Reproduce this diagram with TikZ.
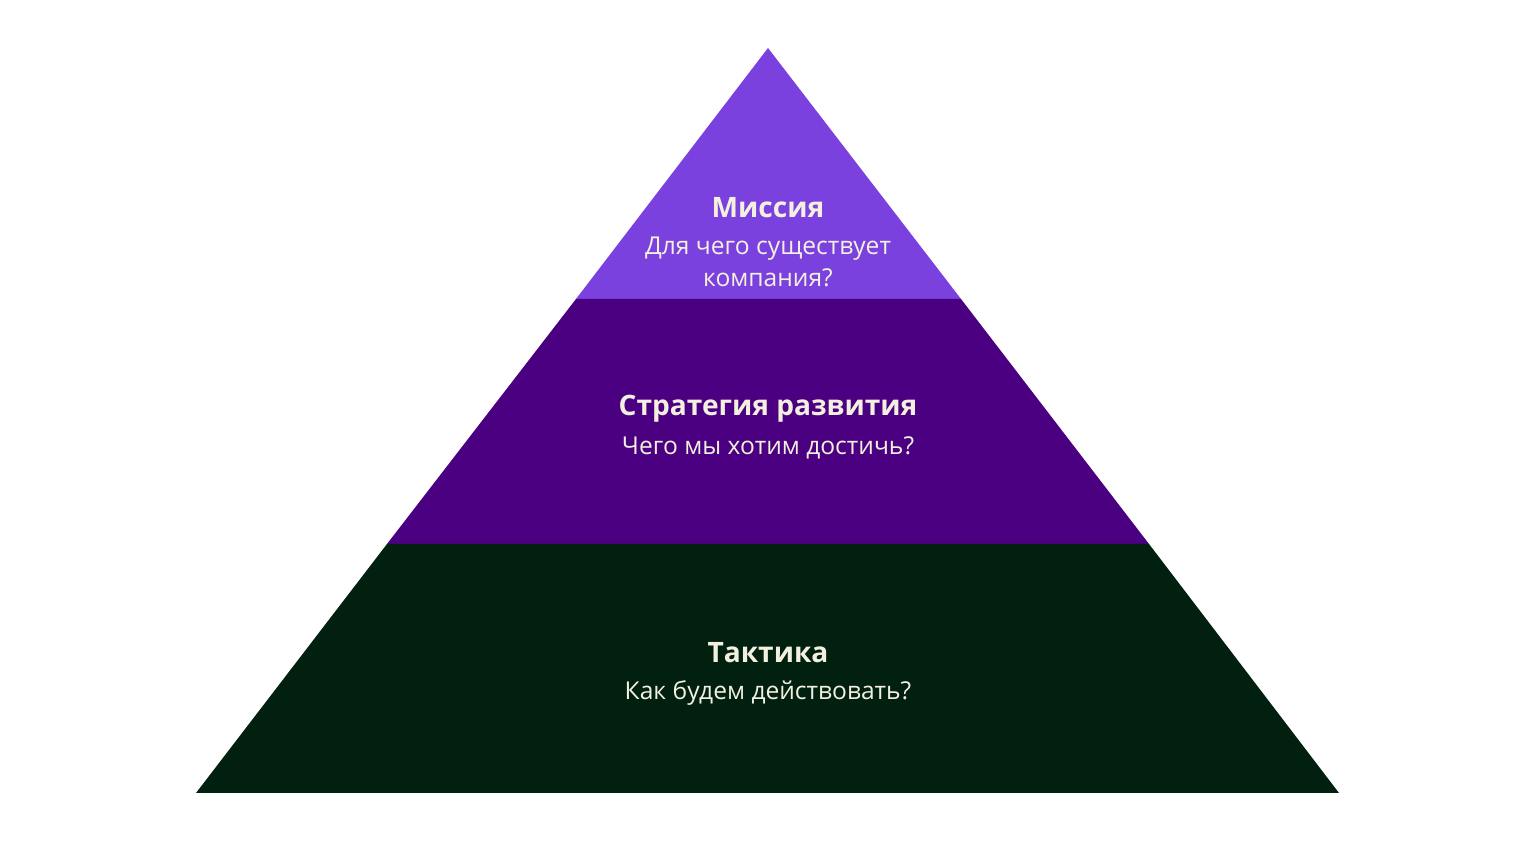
\documentclass[tikz,border=0pt]{standalone}
\usepackage{fontspec}
\setmainfont{Open Sans}
\usetikzlibrary{positioning}
\definecolor{topviolet}{HTML}{7B41DF}
\definecolor{midviolet}{HTML}{4A0080}
\definecolor{lowgreen}{HTML}{01200F}
\definecolor{cream}{HTML}{F3F0E0}
\tikzset{
  ttl/.style={text=cream, font=\fontsize{16}{18}\selectfont\bfseries},
  sub/.style={text=cream, align=center, font=\fontsize{14}{18}\selectfont}
}
\begin{document}
\begin{tikzpicture}[x=0.02cm, y=0.02cm]
          \useasboundingbox (0,0) rectangle (1536,842);
          \coordinate (apex) at (768,794);
          \coordinate (l1) at (576,543);
          \coordinate (r1) at (961,543);
          \coordinate (l2) at (387,298);
          \coordinate (r2) at (1149,298);
          \coordinate (l3) at (196,49);
          \coordinate (r3) at (1339,49);
          \fill[topviolet] (apex) -- (l1) -- (r1) -- cycle;
          \fill[midviolet] (l1) -- (l2) -- (r2) -- (r1) -- cycle;
          \fill[lowgreen] (l2) -- (l3) -- (r3) -- (r2) -- cycle;
          \node[ttl] (mis) at (768,634){Миссия};
          \node[sub] (missub) at (768,580){Для чего существует\\компания?};
          \node[ttl] (str) at (768,433){Стратегия развития};
          \node[sub] (strsub) at (768,394){Чего мы хотим достичь?};
          \node[ttl] (tak) at (768,189){Тактика};
          \node[sub] (taksub) at (768,149){Как будем действовать?};
        \end{tikzpicture}
\end{document}
